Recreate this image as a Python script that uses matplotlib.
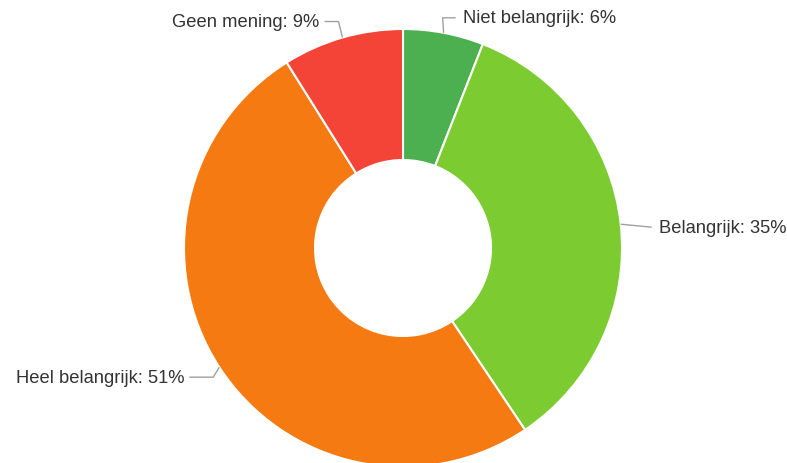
import numpy as np
import matplotlib
matplotlib.use("Agg")
import matplotlib.pyplot as plt

labels = ["Niet belangrijk", "Belangrijk", "Heel belangrijk", "Geen mening"]
values = [6, 35, 51, 9]
colors = ["#4caf50", "#7ccb30", "#f57a12", "#f44337"]

W, H = 787, 464
fig = plt.figure(figsize=(W / 100, H / 100), dpi=100)
ax = fig.add_axes([0, 0, 1, 1])

cx, cy, R, r_in = 403, 215, 219, 88
wedges, _ = ax.pie(values, colors=colors, startangle=90, counterclock=False,
                   center=(cx, cy), radius=R, frame=True,
                   wedgeprops=dict(width=R - r_in, edgecolor="white", linewidth=1.5))
ax.set_xlim(0, W)
ax.set_ylim(0, H)
ax.set_aspect("equal")
ax.axis("off")

# leader line elbow/offsets per label: (dx elbow, dy elbow, horizontal length)
leaders = [(-1, 15, 13), (31, -3, 0), (-6, -10, -24), (-4, 16, -14)]
total = sum(values)
cum = 0
for lab, v, (ex, ey, hl) in zip(labels, values, leaders):
    mid = np.deg2rad(90 - (cum + v / 2) / total * 360)
    cum += v
    x0, y0 = cx + R * np.cos(mid), cy + R * np.sin(mid)
    x1, y1 = x0 + ex, y0 + ey
    x2 = x1 + hl
    ax.plot([x0, x1, x2], [y0, y1, y1], color="#a0a0a0", lw=1, solid_capstyle="butt")
    right = np.cos(mid) > 0
    ax.text(x2 + (7 if right else -5), y1, f"{lab}: {v}%",
            ha="left" if right else "right", va="center",
            fontsize=13.2, family="Liberation Sans", color="#333333")

fig.savefig("out.png", dpi=100)
